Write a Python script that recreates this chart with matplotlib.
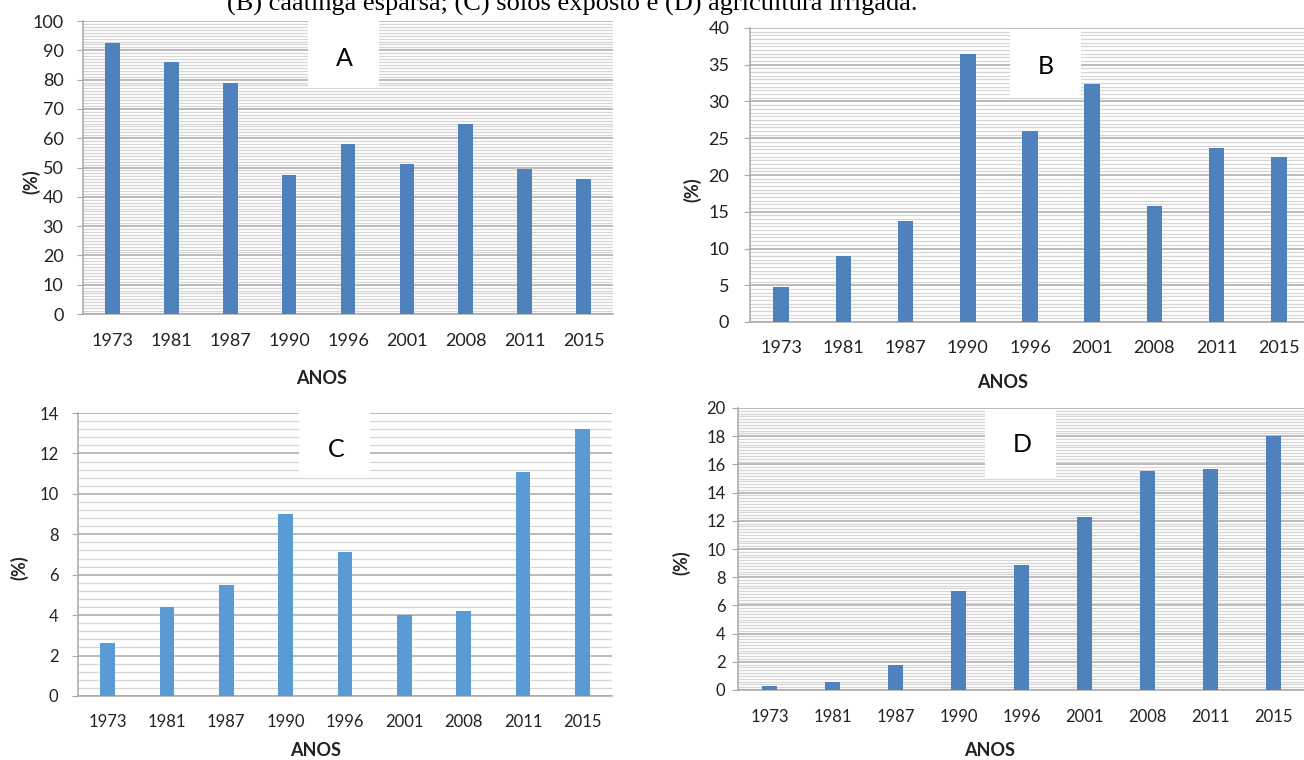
import numpy as np
import matplotlib
matplotlib.use('Agg')
import matplotlib.pyplot as plt
from matplotlib.patches import Rectangle

plt.rcParams['font.family'] = ['Lato', 'DejaVu Sans']

# dados
anos = ['1973', '1981', '1987', '1990', '1996', '2001', '2008', '2011', '2015']
vals_a = [92.4, 86.0, 79.0, 47.6, 58.0, 51.1, 64.7, 49.4, 46.1]
vals_b = [4.8, 9.0, 13.7, 36.4, 26.0, 32.4, 15.8, 23.7, 22.4]
vals_c = [2.6, 4.4, 5.5, 9.0, 7.1, 4.0, 4.2, 11.1, 13.2]
vals_d = [0.3, 0.6, 1.8, 7.0, 8.9, 12.3, 15.5, 15.7, 18.0]

W, H = 1304, 760
fig = plt.figure(figsize=(W / 100, H / 100), dpi=100)


def fx(x):
    return x / W


def fy(y):
    return 1 - y / H


def px_axes(left, top, right, bottom):
    return fig.add_axes([fx(left), fy(bottom), (right - left) / W, (bottom - top) / H])


def painel(ax, vals, cor, ymax, major, minor, fs, ypad, xpad):
    x = np.arange(len(anos))
    ax.bar(x, vals, width=0.25, color=cor, zorder=3)
    ax.set_xlim(-0.5, len(anos) - 0.5)
    ax.set_ylim(0, ymax)
    ax.set_yticks(np.arange(0, ymax + major / 2, major))
    ax.set_yticks(np.arange(0, ymax + 1e-9, minor), minor=True)
    ax.set_xticks(x, anos)
    ax.grid(axis='y', which='minor', color='#D6D6D6', lw=0.9, zorder=0)
    ax.grid(axis='y', which='major', color='#A8A8A8', lw=1.1, zorder=1)
    ax.tick_params(axis='y', which='minor', length=0)
    ax.tick_params(axis='y', which='major', length=4, color='#A8A8A8',
                   labelsize=fs, pad=ypad, labelcolor='#222222')
    ax.tick_params(axis='x', length=0, labelsize=fs, pad=xpad, labelcolor='#222222')
    for s in ['top', 'right']:
        ax.spines[s].set_visible(False)
    for s in ['left', 'bottom']:
        ax.spines[s].set_color('#A8A8A8')
        ax.spines[s].set_linewidth(1.1)


def rotulo(x0, y0, x1, y1, letra, lx, ly):
    fig.patches.append(Rectangle((fx(x0), fy(y1)), (x1 - x0) / W, (y1 - y0) / H,
                                 transform=fig.transFigure, facecolor='white',
                                 edgecolor='none', zorder=5))
    fig.text(fx(lx), fy(ly), letra, fontsize=18, ha='center', va='center', zorder=6)


ax_a = px_axes(83, 21, 613, 314)
painel(ax_a, vals_a, '#4F81BD', 100, 10, 1, 13, 10, 14)
ax_b = px_axes(750, 28, 1310, 322)
painel(ax_b, vals_b, '#4F81BD', 40, 5, 0.5, 13, 11, 13)
ax_c = px_axes(78, 413, 612, 696)
painel(ax_c, vals_c, '#5B9BD5', 14, 2, 0.4, 12, 10, 13)
ax_d = px_axes(738, 408, 1305, 690)
painel(ax_d, vals_d, '#4F81BD', 20, 2, 0.2, 12, 5, 14)

rotulo(308, 20, 379, 88, 'A', 344, 58)
rotulo(1010, 29, 1081, 98, 'B', 1046, 67)
rotulo(299, 409, 370, 478, 'C', 336, 450)
rotulo(985, 409, 1056, 478, 'D', 1022, 445)

# títulos dos eixos
for x, y in [(31, 182), (692, 190), (19, 568), (681, 563)]:
    fig.text(fx(x), fy(y), '(%)', fontsize=13, fontweight='bold', rotation=90,
             ha='center', va='center', color='#222222')
for x, y in [(322, 378), (1003, 383), (316, 750), (990, 750)]:
    fig.text(fx(x), fy(y), 'ANOS', fontsize=13, fontweight='bold',
             ha='center', va='center', color='#222222')

# legenda (cortada no topo, como no original)
fig.text(fx(227), fy(11), '(B) caatinga esparsa; (C) solos exposto e (D) agricultura irrigada.',
         fontsize=19, family=['Liberation Serif', 'DejaVu Serif'], ha='left', va='baseline')

fig.savefig('out.png', dpi=100)
